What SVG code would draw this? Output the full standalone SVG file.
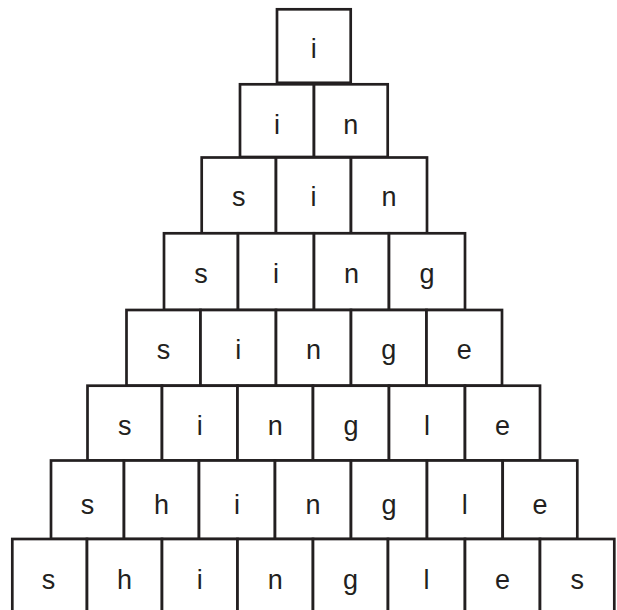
<svg xmlns="http://www.w3.org/2000/svg" width="617" height="610" viewBox="0 0 617 610">
<style>
.b rect{fill:#fff;stroke:#231f20;stroke-width:2.7}
.b text{font-family:"Liberation Sans",Arial,sans-serif;font-size:27px;fill:#231f20;text-anchor:middle}
</style>
<rect width="617" height="610" fill="#fff"/>
<g class="b">
<g id="r1c1"><rect x="277" y="9.3" width="73.7" height="73.5"/><text x="313.8" y="57.5">i</text></g>

<g id="r2c1"><rect x="240" y="84.3" width="74" height="72.7"/><text x="277" y="134">i</text></g>
<g id="r2c2"><rect x="314" y="84.3" width="73.7" height="72.7"/><text x="350.8" y="134">n</text></g>

<g id="r3c1"><rect x="201.7" y="157.5" width="74.3" height="75.8"/><text x="238.8" y="206">s</text></g>
<g id="r3c2"><rect x="276" y="157.5" width="75" height="75.8"/><text x="313.5" y="206">i</text></g>
<g id="r3c3"><rect x="351" y="157.5" width="76" height="75.8"/><text x="389" y="206">n</text></g>

<g id="r4c1"><rect x="164" y="233.3" width="74" height="76.7"/><text x="201" y="283">s</text></g>
<g id="r4c2"><rect x="238" y="233.3" width="76" height="76.7"/><text x="276" y="283">i</text></g>
<g id="r4c3"><rect x="314" y="233.3" width="75" height="76.7"/><text x="351.5" y="283">n</text></g>
<g id="r4c4"><rect x="389" y="233.3" width="76" height="76.7"/><text x="427" y="283">g</text></g>

<g id="r5c1"><rect x="126.5" y="310" width="74" height="75.7"/><text x="163.5" y="358.5">s</text></g>
<g id="r5c2"><rect x="200.5" y="310" width="75.5" height="75.7"/><text x="238.2" y="358.5">i</text></g>
<g id="r5c3"><rect x="276" y="310" width="75" height="75.7"/><text x="313.5" y="358.5">n</text></g>
<g id="r5c4"><rect x="351" y="310" width="75.5" height="75.7"/><text x="388.7" y="358.5">g</text></g>
<g id="r5c5"><rect x="426.5" y="310" width="75.5" height="75.7"/><text x="464.2" y="358.5">e</text></g>

<g id="r6c1"><rect x="87.5" y="385.7" width="74.5" height="74.8"/><text x="124.7" y="435">s</text></g>
<g id="r6c2"><rect x="162" y="385.7" width="75.5" height="74.8"/><text x="199.7" y="435">i</text></g>
<g id="r6c3"><rect x="237.5" y="385.7" width="75.5" height="74.8"/><text x="275.2" y="435">n</text></g>
<g id="r6c4"><rect x="313" y="385.7" width="76" height="74.8"/><text x="351" y="435">g</text></g>
<g id="r6c5"><rect x="389" y="385.7" width="76" height="74.8"/><text x="427" y="435">l</text></g>
<g id="r6c6"><rect x="465" y="385.7" width="75" height="74.8"/><text x="502.5" y="435">e</text></g>

<g id="r7c1"><rect x="51" y="460.5" width="73" height="78.5"/><text x="87.5" y="514">s</text></g>
<g id="r7c2"><rect x="124" y="460.5" width="75" height="78.5"/><text x="161.5" y="514">h</text></g>
<g id="r7c3"><rect x="199" y="460.5" width="76" height="78.5"/><text x="237" y="514">i</text></g>
<g id="r7c4"><rect x="275" y="460.5" width="76" height="78.5"/><text x="313" y="514">n</text></g>
<g id="r7c5"><rect x="351" y="460.5" width="76" height="78.5"/><text x="389" y="514">g</text></g>
<g id="r7c6"><rect x="427" y="460.5" width="75.7" height="78.5"/><text x="464.8" y="514">l</text></g>
<g id="r7c7"><rect x="502.7" y="460.5" width="74.6" height="78.5"/><text x="540" y="514">e</text></g>

<g id="r8c1"><rect x="12.3" y="539" width="74.7" height="90"/><text x="48.5" y="589">s</text></g>
<g id="r8c2"><rect x="87" y="539" width="75" height="90"/><text x="124.5" y="589">h</text></g>
<g id="r8c3"><rect x="162" y="539" width="75.5" height="90"/><text x="199.7" y="589">i</text></g>
<g id="r8c4"><rect x="237.5" y="539" width="75.5" height="90"/><text x="275.2" y="589">n</text></g>
<g id="r8c5"><rect x="313" y="539" width="75" height="90"/><text x="350.5" y="589">g</text></g>
<g id="r8c6"><rect x="388" y="539" width="77" height="90"/><text x="426.5" y="589">l</text></g>
<g id="r8c7"><rect x="465" y="539" width="75" height="90"/><text x="502.5" y="589">e</text></g>
<g id="r8c8"><rect x="540" y="539" width="74.3" height="90"/><text x="577.2" y="589">s</text></g>
</g>
<g id="connectors"/>
</svg>
